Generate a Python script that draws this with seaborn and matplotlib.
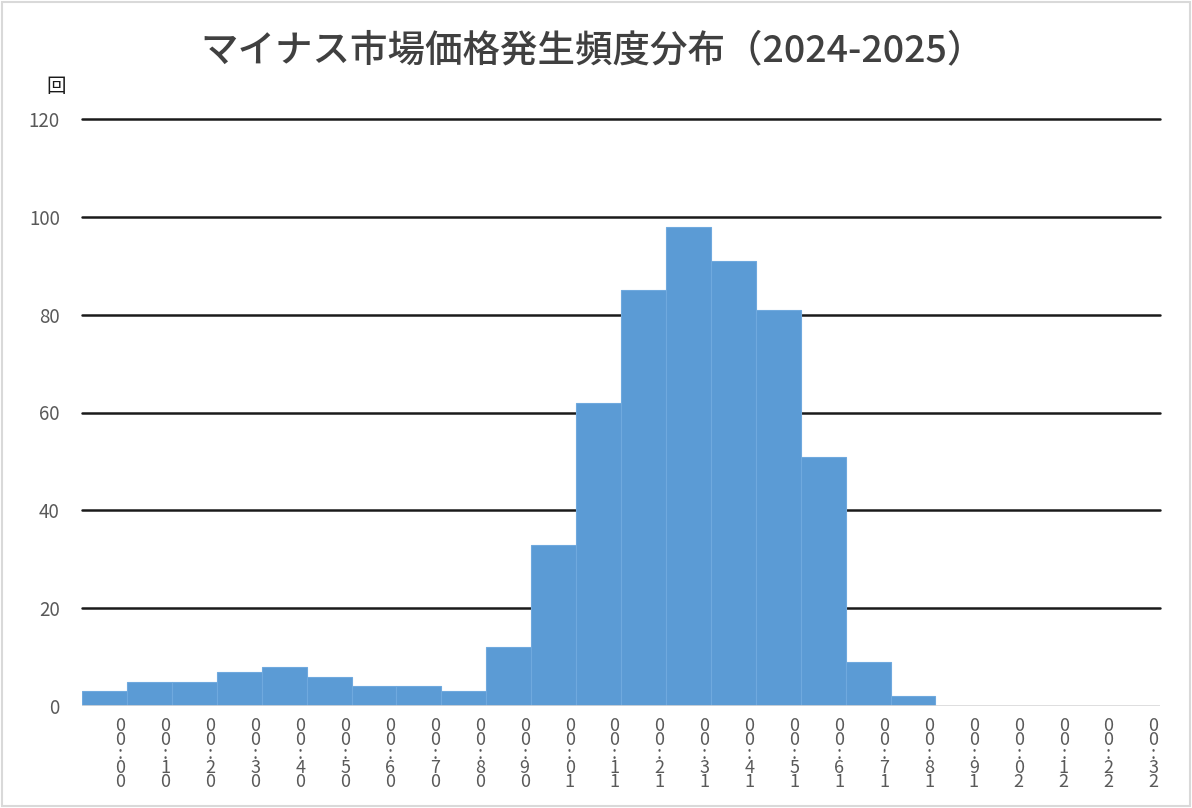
import matplotlib
matplotlib.use("Agg")
import matplotlib.pyplot as plt
import matplotlib.transforms as mtransforms
import seaborn as sns
import pandas as pd

# ---- data ----
hours = [f"{h:02d}:00" for h in range(24)]
counts = [3, 5, 5, 7, 8, 6, 4, 4, 3, 12, 33, 62, 85, 98, 91, 81, 51, 9, 2, 0, 0, 0, 0, 0]
title = "マイナス市場価格発生頻度分布（2024-2025）"
y_unit = "回"
y_ticks = [0, 20, 40, 60, 80, 100, 120]

sns.set_theme(style="white")
plt.rcParams['font.family'] = ['Noto Sans CJK JP', 'DejaVu Sans']

df = pd.DataFrame({"hour": hours, "count": counts})

fig = plt.figure(figsize=(11.92, 8.08), dpi=100)
ax = fig.add_axes([82/1192, 1 - 706/808, (1160-82)/1192, (706-119)/808])

sns.barplot(data=df, x="hour", y="count", ax=ax, color="#5B9BD5", saturation=1,
            width=1.0, edgecolor="#6FA9DE", linewidth=0.8, zorder=3)

ax.set_ylim(0, 120)
ax.set_xlim(-0.5, 23.5)
ax.set_yticks(y_ticks)
ax.set_yticklabels([str(t) for t in y_ticks], fontsize=13.5, color="#595959")
for t in y_ticks[1:]:
    ax.axhline(t, color="#1a1a1a", lw=1.8, zorder=1, clip_on=False)
ax.axhline(0, color="#d9d9d9", lw=1.2, zorder=4)

for s in ax.spines.values():
    s.set_visible(False)
ax.tick_params(axis="y", length=0, pad=16)
ax.tick_params(axis="x", length=0, pad=8)

# stacked vertical labels (characters drawn from bottom to top)
ax.set_xticks(range(len(hours)))
ax.set_xticklabels(["\n".join(reversed(h)) for h in hours], fontsize=13,
                   color="#595959", linespacing=0.72, va="top")
offset = mtransforms.ScaledTranslation(16/100, 0, fig.dpi_scale_trans)
for lab in ax.get_xticklabels():
    lab.set_transform(lab.get_transform() + offset)

ax.set_xlabel("")
ax.set_ylabel("")

fig.text(593/1192, 1 - 50/808, title, ha="center", va="center",
         fontsize=27, color="#404040", fontweight="medium")
fig.text(56/1192, 1 - 86/808, y_unit, ha="center", va="center",
         fontsize=14, color="#1a1a1a")

fig.patches.append(plt.Rectangle((0.002, 0.002), 0.996, 0.996, transform=fig.transFigure,
                                 fill=False, edgecolor="#d9d9d9", lw=1.5))

fig.savefig("out.png", dpi=100, facecolor="white")
